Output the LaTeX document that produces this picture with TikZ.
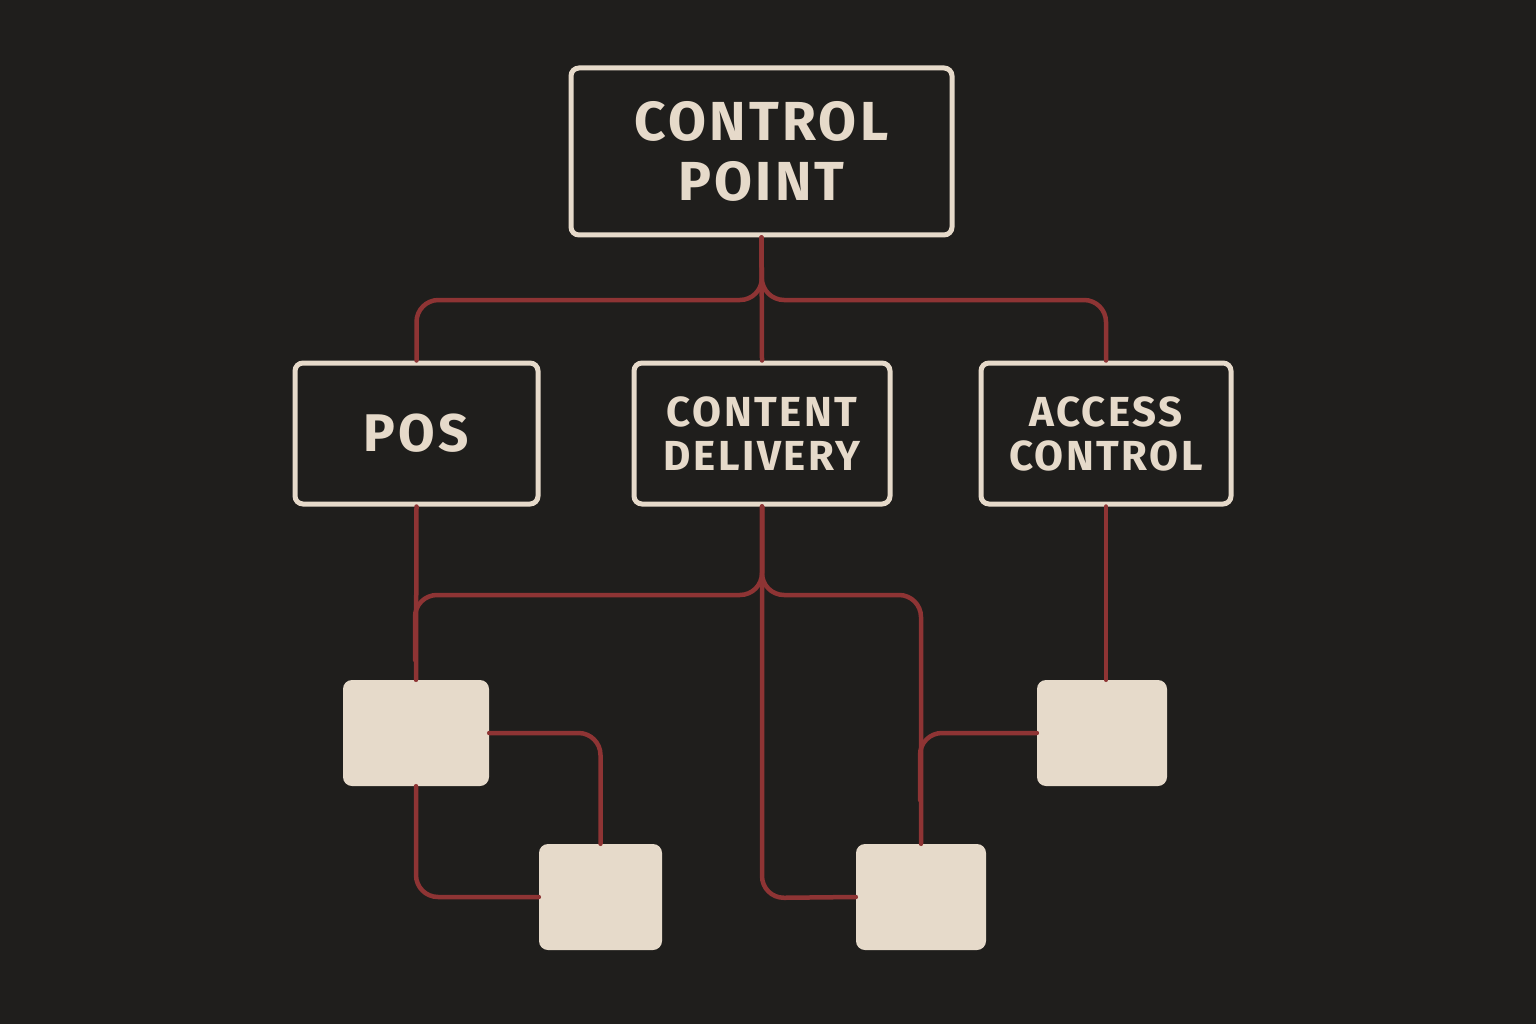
\documentclass[tikz,border=0pt]{standalone}
\usepackage{fontspec}
\newfontfamily\lbl[LetterSpace=6]{Fira Sans}
\definecolor{bg}{HTML}{1F1E1C}
\definecolor{cream}{HTML}{E6DACA}
\definecolor{wire}{HTML}{8E3434}
\begin{document}
\begin{tikzpicture}[x=1pt,y=-1pt,
  box/.style={draw=cream,line width=5pt,rounded corners=8pt,fill=bg,text=cream,align=center,inner sep=0pt,font=\lbl\bfseries},
  sq/.style={fill=cream,rounded corners=9pt,inner sep=0pt},
  wire/.style={draw=wire,line width=4.5pt,rounded corners=22pt,line cap=round}]
\fill[bg] (0,0) rectangle (1536,1024);
\useasboundingbox (0,0) rectangle (1536,1024);
\node[box,minimum width=381pt,minimum height=167pt,font=\lbl\bfseries\fontsize{55}{60}\selectfont] (cp) at (761.5,151.5) {CONTROL\\POINT};
\node[box,minimum width=243pt,minimum height=141pt,font=\lbl\bfseries\fontsize{53}{58}\selectfont] (pos) at (416.5,433.5) {POS};
\node[box,minimum width=256pt,minimum height=141pt,font=\lbl\bfseries\fontsize{42}{44}\selectfont] (cd) at (762,433.5) {CONTENT\\DELIVERY};
\node[box,minimum width=250pt,minimum height=141pt,font=\lbl\bfseries\fontsize{42}{44}\selectfont] (ac) at (1106,433.5) {ACCESS\\CONTROL};
\node[sq,minimum width=146pt,minimum height=106pt] (s1) at (416,733) {};
\node[sq,minimum width=123pt,minimum height=106pt] (s2) at (600.5,897) {};
\node[sq,minimum width=130pt,minimum height=106pt] (s3) at (921,897) {};
\node[sq,minimum width=130pt,minimum height=106pt] (s4) at (1102,733) {};
\coordinate (j1) at (762,300);
\coordinate (j2) at (762,595);
\coordinate (m1) at (415,660);
\coordinate (m2) at (920,800);
\coordinate (b1) at (762,898);
\draw[wire] (cp.south) -- (j1) -| (pos.north);
\draw[wire] (cp.south) -- (j1) -| (ac.north);
\draw[wire] (cp.south) -- (cd.north);
\draw[wire] (pos.south) -- (s1.north);
\draw[wire] (cd.south) -- (j2) -| (m1);
\draw[wire] (cd.south) -- (j2) -| (s3.north);
\draw[wire] (cd.south) -- (b1) -- (s3.west);
\draw[wire] (ac.south) -- (ac.south |- s4.north);
\draw[wire] (s1.east) -| (s2.north);
\draw[wire] (s1.south) |- (s2.west);
\draw[wire] (s4.west) -| (m2);
\end{tikzpicture}
\end{document}
